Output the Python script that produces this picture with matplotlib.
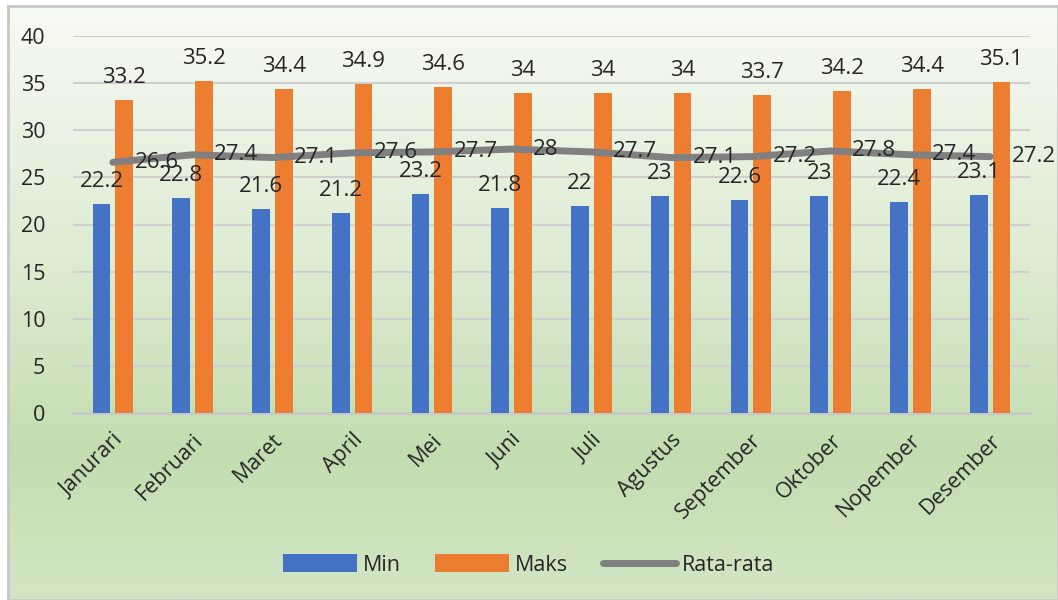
import matplotlib.pyplot as plt
import numpy as np
from matplotlib.colors import LinearSegmentedColormap

plt.rcParams['font.family'] = ['Open Sans', 'DejaVu Sans']

bulan = ['Janurari', 'Februari', 'Maret', 'April', 'Mei', 'Juni', 'Juli',
         'Agustus', 'September', 'Oktober', 'Nopember', 'Desember']
suhu_min = [22.2, 22.8, 21.6, 21.2, 23.2, 21.8, 22, 23, 22.6, 23, 22.4, 23.1]
suhu_maks = [33.2, 35.2, 34.4, 34.9, 34.6, 34, 34, 34, 33.7, 34.2, 34.4, 35.1]
rata_rata = [26.6, 27.4, 27.1, 27.6, 27.7, 28, 27.7, 27.1, 27.2, 27.8, 27.4, 27.2]

biru = '#4472c4'
oranye = '#ed7d31'
abu = '#808080'
teks = '#262626'

fig = plt.figure(figsize=(10.58, 6), dpi=100)

# latar gradasi hijau
bg = fig.add_axes([8/1058, 0, 1 - 8/1058, 1 - 6/600], zorder=-10)
cmap = LinearSegmentedColormap.from_list('bg', [(0, '#f7faf4'), (0.45, '#dcebd0'),
                                                (0.75, '#c3ddb0'), (1, '#d2e6c4')])
grad = np.linspace(0, 1, 256).reshape(-1, 1)
bg.imshow(grad, aspect='auto', cmap=cmap, extent=[0, 1, 0, 1], origin='upper')
bg.set_xticks([])
bg.set_yticks([])
for s in bg.spines.values():
    s.set_color('#c8c8c8')
    s.set_linewidth(2)

ax = fig.add_axes([73/1058, 1 - 413/600, (1030 - 73)/1058, (413 - 36)/600])
ax.patch.set_alpha(0)

x = np.arange(len(bulan))
w = 0.225
b1 = ax.bar(x - w/2 - 0.03, suhu_min, w, color=biru, label='Min', zorder=3)
b2 = ax.bar(x + w/2 + 0.03, suhu_maks, w, color=oranye, label='Maks', zorder=3)
ln, = ax.plot(x, rata_rata, color=abu, lw=5, solid_capstyle='round', solid_joinstyle='round',
              label='Rata-rata', zorder=4)

for r, v in zip(b1, suhu_min):
    ax.text(r.get_x() + r.get_width()/2, v + 1.8, f'{v:g}', ha='center', va='baseline',
            fontsize=16, color=teks, zorder=5)
for r, v in zip(b2, suhu_maks):
    ax.text(r.get_x() + r.get_width()/2, v + 1.8, f'{v:g}', ha='center', va='baseline',
            fontsize=16, color=teks, zorder=5)
for xi, v in zip(x, rata_rata):
    ax.text(xi + 0.27, v, f'{v:g}', ha='left', va='center', fontsize=16, color=teks, zorder=5)

ax.set_xlim(-0.5, len(bulan) - 0.5)
ax.set_ylim(0, 40)
ax.set_yticks(range(0, 41, 5))
ax.yaxis.grid(True, color='#cfcfcf', lw=1.5, zorder=0)
ax.set_axisbelow(True)
for s in ['top', 'right', 'left']:
    ax.spines[s].set_visible(False)
ax.spines['bottom'].set_color('#c8c8c8')
ax.spines['bottom'].set_linewidth(2)
ax.tick_params(axis='both', length=0, labelsize=15.5, colors=teks)
ax.tick_params(axis='y', pad=20)
ax.set_xticks(x)
ax.set_xticklabels(bulan, rotation=45, ha='right', rotation_mode='anchor')
ax.tick_params(axis='x', pad=12)

fig.legend(handles=[b1, b2, ln], loc='center', bbox_to_anchor=(0.5, 1 - 565/600), ncol=3,
           frameon=False, fontsize=15.5, handlelength=3.4, handleheight=0.9,
           columnspacing=1.6, handletextpad=0.3, labelcolor=teks)

fig.savefig('out.png', dpi=100)
